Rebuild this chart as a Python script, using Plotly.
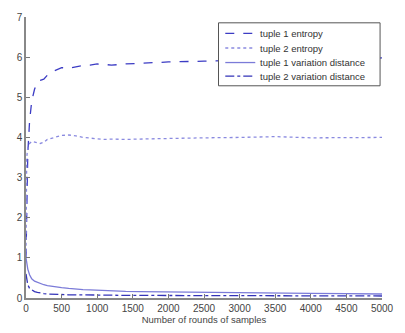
import plotly.graph_objects as go

# Number of sampling rounds at which each quantity was recorded
rounds = [0, 10, 25, 50, 80, 120, 160, 200, 250, 300, 400, 500, 600, 700, 800, 900,
          1000, 1100, 1200, 1400, 1600, 1800, 2000, 2500, 3000, 3500, 4000, 4500, 5000]

tuple1_entropy = [1.0, 2.6, 3.6, 4.4, 4.9, 5.2, 5.38, 5.42, 5.45, 5.55, 5.66, 5.74, 5.72,
                  5.76, 5.79, 5.8, 5.83, 5.82, 5.8, 5.83, 5.85, 5.86, 5.88, 5.9, 5.92,
                  5.92, 5.95, 5.94, 5.98]
tuple2_entropy = [1.0, 3.5, 3.75, 3.85, 3.9, 3.88, 3.86, 3.85, 3.88, 3.95, 4.0, 4.05, 4.06,
                  4.04, 4.0, 3.98, 3.96, 3.95, 3.96, 3.95, 3.96, 3.97, 3.97, 3.99, 4.0,
                  4.02, 3.99, 4.0, 4.0]
tuple1_variation = [1.0, 0.85, 0.72, 0.58, 0.48, 0.42, 0.39, 0.37, 0.33, 0.31, 0.28, 0.26,
                    0.24, 0.22, 0.21, 0.2, 0.19, 0.18, 0.175, 0.165, 0.16, 0.155, 0.15,
                    0.14, 0.13, 0.12, 0.115, 0.11, 0.1]
tuple2_variation = [0.6, 0.45, 0.33, 0.24, 0.2, 0.16, 0.14, 0.12, 0.11, 0.1, 0.09, 0.085,
                    0.08, 0.08, 0.075, 0.075, 0.07, 0.07, 0.07, 0.065, 0.065, 0.06, 0.06,
                    0.06, 0.06, 0.055, 0.055, 0.055, 0.05]

series_names = ["tuple 1 entropy", "tuple 2 entropy",
                "tuple 1 variation distance", "tuple 2 variation distance"]
series_values = [tuple1_entropy, tuple2_entropy, tuple1_variation, tuple2_variation]
series_colors = ["#3c3cc4", "#8a8ae0", "#7b7bd8", "#3333b8"]
series_dashes = ["dash", "dot", "solid", "dashdot"]

W, H = 405, 333
M_L, M_R, M_T, M_B = 26, 11, 11, 32
PW, PH = W - M_L - M_R, H - M_T - M_B


def px_x(p):
    return (p - M_L) / PW


def px_y(p):
    return (H - M_B - p) / PH


fig = go.Figure()
for name, values, color, dash in zip(series_names, series_values, series_colors, series_dashes):
    fig.add_trace(go.Scatter(
        x=rounds, y=values, mode="lines", name=name, showlegend=False,
        line=dict(color=color, dash=dash, width=1.3),
    ))

# Compact boxed legend in the upper right of the axes
legend_box = dict(x0=225, x1=392, y0=17, y1=82)
row_y = [28, 43, 58, 72]
fig.add_shape(type="rect", xref="paper", yref="paper",
              x0=px_x(legend_box["x0"]), x1=px_x(legend_box["x1"]),
              y0=px_y(legend_box["y1"]), y1=px_y(legend_box["y0"]),
              line=dict(color="#555", width=1), fillcolor="white", layer="above")
for name, color, dash, ry in zip(series_names, series_colors, series_dashes, row_y):
    fig.add_shape(type="line", xref="paper", yref="paper",
                  x0=px_x(232), x1=px_x(263), y0=px_y(ry), y1=px_y(ry),
                  line=dict(color=color, dash=dash, width=1.3), layer="above")
    fig.add_annotation(xref="paper", yref="paper", x=px_x(266), y=px_y(ry),
                       xanchor="left", yanchor="middle", text=name, showarrow=False,
                       font=dict(family="Liberation Sans, Arial, sans-serif", size=9.5,
                                 color="#333"))

axis_font = dict(family="Liberation Sans, Arial, sans-serif", size=10, color="#444")

fig.update_layout(
    width=W, height=H,
    margin=dict(l=M_L, r=M_R, t=M_T, b=M_B),
    paper_bgcolor="white", plot_bgcolor="white",
    font=axis_font,
    xaxis=dict(
        range=[0, 5000], tickvals=list(range(0, 5001, 500)),
        ticks="inside", ticklen=4, tickcolor="#777", ticklabeloverflow="allow",
        showline=True, linecolor="#888", linewidth=1.5,
        showgrid=False, zeroline=False, tickfont=axis_font,
        title=dict(text="Number of rounds of samples", standoff=2,
                   font=dict(family="Liberation Sans, Arial, sans-serif", size=9.5, color="#444")),
    ),
    yaxis=dict(
        range=[0, 7], tickvals=list(range(0, 8)),
        ticks="inside", ticklen=4, tickcolor="#777",
        showline=True, linecolor="#888", linewidth=1.5,
        showgrid=False, zeroline=False, tickfont=axis_font,
    ),
)

fig.write_html("out.html")
